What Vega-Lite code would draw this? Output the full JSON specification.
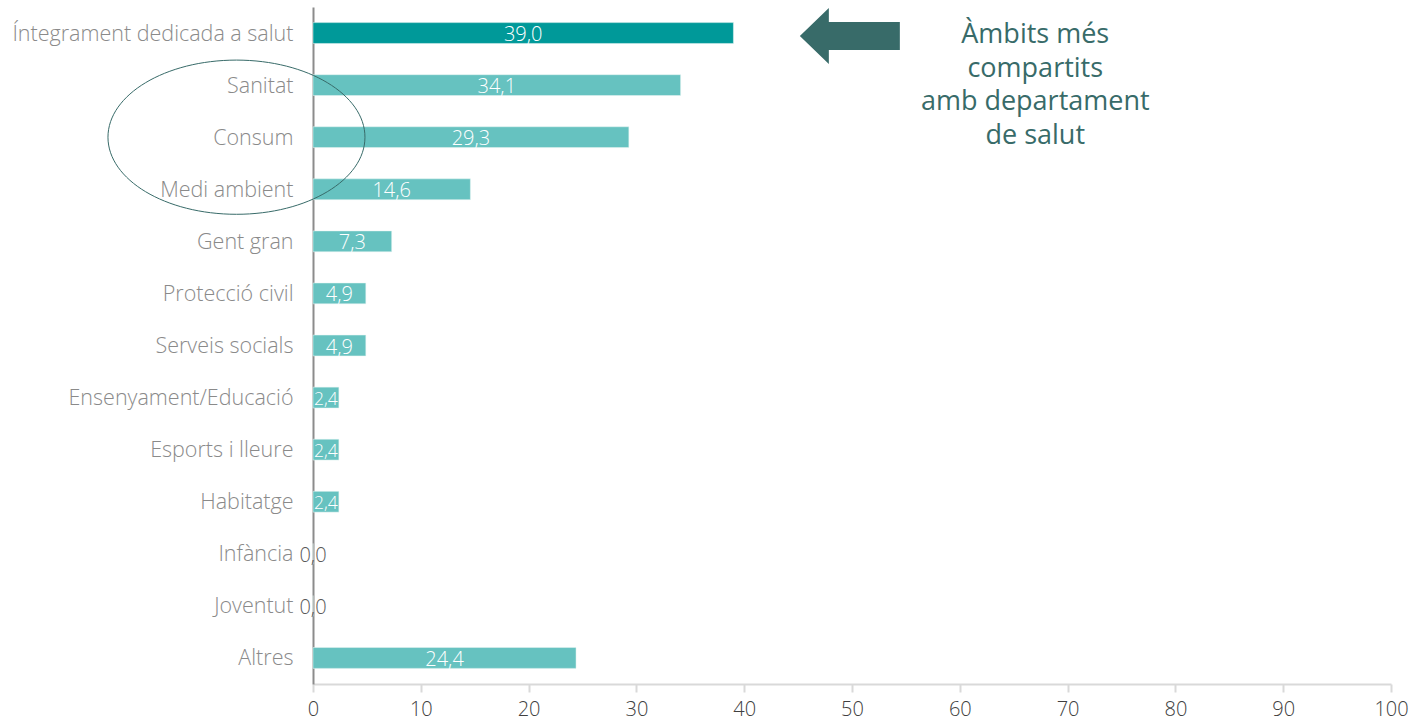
{
  "$schema": "https://vega.github.io/schema/vega-lite/v6.json",
  "autosize": "none",
  "width": 1078,
  "height": 677,
  "padding": {"left": 313, "top": 7, "right": 25, "bottom": 39},
  "background": "white",
  "config": {
    "view": {"stroke": null},
    "font": "Open Sans",
    "locale": {"number": {"decimal": ",", "thousands": ".", "grouping": [3], "currency": ["", " €"]}}
  },
  "datasets": {
    "bars": [
      {"category": "Íntegrament dedicada a salut", "value": 39.0, "group": "main"},
      {"category": "Sanitat", "value": 34.1, "group": "other"},
      {"category": "Consum", "value": 29.3, "group": "other"},
      {"category": "Medi ambient", "value": 14.6, "group": "other"},
      {"category": "Gent gran", "value": 7.3, "group": "other"},
      {"category": "Protecció civil", "value": 4.9, "group": "other"},
      {"category": "Serveis socials", "value": 4.9, "group": "other"},
      {"category": "Ensenyament/Educació", "value": 2.4, "group": "other"},
      {"category": "Esports i lleure", "value": 2.4, "group": "other"},
      {"category": "Habitatge", "value": 2.4, "group": "other"},
      {"category": "Infància", "value": 0.0, "group": "other"},
      {"category": "Joventut", "value": 0.0, "group": "other"},
      {"category": "Altres", "value": 24.4, "group": "other"}
    ],
    "arrow": [{"category": "Íntegrament dedicada a salut", "x": 49.8}],
    "ellipse": [{"category": "Consum", "x": -7.1}],
    "note": [{"category": "Íntegrament dedicada a salut", "x": 67, "text": ["Àmbits més", "compartits", "amb departament", "de salut"]}]
  },
  "encoding": {
    "y": {
      "field": "category",
      "type": "nominal",
      "scale": {
        "domain": ["Íntegrament dedicada a salut", "Sanitat", "Consum", "Medi ambient", "Gent gran", "Protecció civil", "Serveis socials", "Ensenyament/Educació", "Esports i lleure", "Habitatge", "Infància", "Joventut", "Altres"],
        "paddingInner": 0.6,
        "paddingOuter": 0.3
      },
      "axis": {
        "title": null,
        "domain": true,
        "domainColor": "#8c8c8c",
        "domainWidth": 2,
        "ticks": false,
        "labelPadding": 20,
        "labelOffset": 1.5,
        "labelFontSize": 21.5,
        "labelColor": "#8a8a8a",
        "labelFont": "Open Sans",
        "labelFontWeight": 300,
        "labelLimit": 400
      }
    }
  },
  "resolve": {"scale": {"x": "independent"}},
  "layer": [
    {
      "data": {"name": "bars"},
      "mark": {"type": "bar", "stroke": "#e6f4f3", "strokeWidth": 0.5},
      "encoding": {
        "x": {
          "field": "value",
          "type": "quantitative",
          "scale": {"domain": [0, 100], "nice": false},
          "axis": {
            "title": null,
            "values": [0, 10, 20, 30, 40, 50, 60, 70, 80, 90, 100],
            "grid": false,
            "domainColor": "#d9d9d9",
            "domainWidth": 2,
            "tickColor": "#d9d9d9",
            "tickWidth": 2,
            "tickSize": 8,
            "labelFontSize": 20,
            "labelColor": "#404040",
            "labelFontWeight": 300,
            "labelPadding": 7,
            "labelFlush": false,
            "format": "d"
          }
        },
        "color": {
          "field": "group",
          "type": "nominal",
          "scale": {"domain": ["main", "other"], "range": ["#009999", "#66c2c0"]},
          "legend": null
        }
      }
    },
    {
      "data": {"name": "bars"},
      "mark": {"type": "text", "baseline": "middle", "align": "center", "dy": 2, "fontWeight": 300},
      "encoding": {
        "x": {"field": "value", "type": "quantitative", "scale": {"domain": [0, 200], "nice": false}, "axis": null},
        "text": {"field": "value", "type": "quantitative", "format": ".1f"},
        "color": {"condition": {"test": "datum.value == 0", "value": "#595959"}, "value": "#ffffff"},
        "size": {"condition": {"test": "datum.value > 0 && datum.value < 3", "value": 17.5}, "value": 20}
      }
    },
    {
      "data": {"name": "arrow"},
      "mark": {
        "type": "point",
        "shape": "M -1 0 L -0.42 -0.56 L -0.42 -0.28 L 1 -0.28 L 1 0.28 L -0.42 0.28 L -0.42 0.56 Z",
        "filled": true,
        "fill": "#386b69",
        "opacity": 1,
        "size": 10000,
        "yOffset": 3
      },
      "encoding": {
        "x": {"field": "x", "type": "quantitative", "scale": {"domain": [0, 100], "nice": false}, "axis": null}
      }
    },
    {
      "data": {"name": "ellipse"},
      "mark": {
        "type": "point",
        "shape": "M -1 0 A 1 0.6 0 1 0 1 0 A 1 0.6 0 1 0 -1 0 Z",
        "filled": false,
        "stroke": "#386b69",
        "strokeWidth": 1,
        "opacity": 1,
        "size": 66049,
        "clip": false
      },
      "encoding": {
        "x": {"field": "x", "type": "quantitative", "scale": {"domain": [0, 100], "nice": false}, "axis": null}
      }
    },
    {
      "data": {"name": "note"},
      "mark": {
        "type": "text",
        "align": "center",
        "baseline": "middle",
        "fontSize": 27,
        "lineHeight": 33.5,
        "color": "#386b69",
        "font": "Open Sans",
        "fontWeight": 400,
        "yOffset": 2
      },
      "encoding": {
        "x": {"field": "x", "type": "quantitative", "scale": {"domain": [0, 100], "nice": false}, "axis": null},
        "text": {"field": "text"}
      }
    }
  ]
}
